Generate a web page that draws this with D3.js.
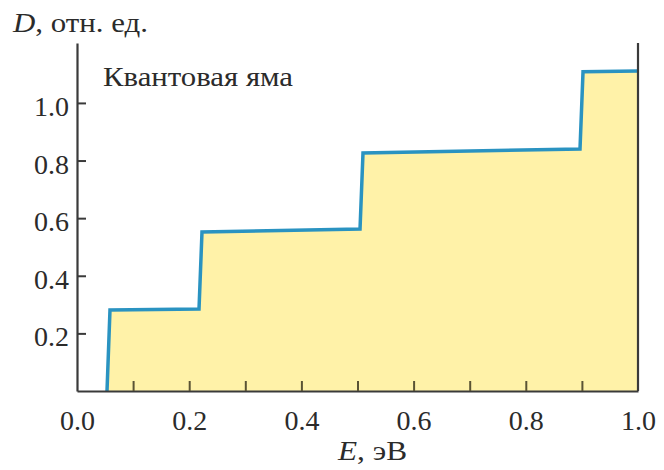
<!DOCTYPE html>
<html>
<head>
<meta charset="utf-8">
<script src="https://cdn.jsdelivr.net/npm/d3@7"></script>
</head>
<body style="margin:0">
<script>
// vertices of the step curve (energy, density of states)
const energy  = [0.0535, 0.0588, 0.2175, 0.2228, 0.5045, 0.5098, 0.8966, 0.902, 1.0];
const density = [0.0,    0.281,  0.285,  0.552,  0.5625, 0.826,  0.840,  1.108, 1.111];
const xLabelTicks = [0.0, 0.2, 0.4, 0.6, 0.8, 1.0];
const xMinorTicks = [0.1, 0.2, 0.3, 0.4, 0.5, 0.6, 0.7, 0.8, 0.9];
const yTicks = [0.2, 0.4, 0.6, 0.8, 1.0];

const width = 664, height = 470;
const margin = { top: 43, right: 26, bottom: 79, left: 77 };

const svg = d3.select('body').append('svg')
  .attr('width', width)
  .attr('height', height);

const x = d3.scaleLinear().domain([0, 1]).range([margin.left, width - margin.right]);
const y = d3.scaleLinear().domain([0, 1.208]).range([height - margin.bottom, margin.top]);

const points = energy.map((e, i) => ({ e: e, d: density[i] }));

// filled area under the curve
const area = d3.area()
  .x(d => x(d.e))
  .y0(y(0))
  .y1(d => y(d.d));

svg.append('path')
  .datum(points)
  .attr('d', area)
  .attr('fill', '#fff2a8');

// step curve
const line = d3.line()
  .x(d => x(d.e))
  .y(d => y(d.d));

svg.append('path')
  .datum(points)
  .attr('d', line)
  .attr('fill', 'none')
  .attr('stroke', '#2a93c1')
  .attr('stroke-width', 3.5);

// x axis: labels
const xAxis = svg.append('g')
  .attr('transform', `translate(0, ${y(0)})`)
  .call(d3.axisBottom(x).tickValues(xLabelTicks).tickFormat(d3.format('.1f'))
    .tickSize(0).tickPadding(19));
xAxis.attr('font-family', null).attr('font-size', null);
xAxis.select('.domain').attr('stroke', '#3a3a3a').attr('stroke-width', 2.2);
xAxis.selectAll('text')
  .style('font-family', '"Liberation Serif"')
  .style('font-size', '28px')
  .attr('fill', '#2b2b2b');

// x axis: inward ticks
const xTickAxis = svg.append('g')
  .attr('transform', `translate(0, ${y(0)})`)
  .call(d3.axisBottom(x).tickValues(xMinorTicks).tickFormat('').tickSize(-10).tickSizeOuter(0));
xTickAxis.select('.domain').remove();
xTickAxis.selectAll('line').attr('stroke', '#5a5334').attr('stroke-width', 2);

// y axis
const yAxis = svg.append('g')
  .attr('transform', `translate(${x(0)}, 0)`)
  .call(d3.axisLeft(y).tickValues(yTicks).tickFormat(d3.format('.1f'))
    .tickSize(-9).tickSizeOuter(0).tickPadding(8));
yAxis.attr('font-family', null).attr('font-size', null);
yAxis.select('.domain').attr('stroke', '#3a3a3a').attr('stroke-width', 2.2);
yAxis.selectAll('line').attr('stroke', '#3a3a3a').attr('stroke-width', 2);
yAxis.selectAll('text')
  .style('font-family', '"Liberation Serif"')
  .style('font-size', '28px')
  .attr('dy', '0.45em')
  .attr('fill', '#2b2b2b');

// right border line
svg.append('line')
  .attr('x1', x(1)).attr('x2', x(1))
  .attr('y1', y(0)).attr('y2', margin.top)
  .attr('stroke', '#3a3a3a')
  .attr('stroke-width', 2.2);

// titles
const yTitle = svg.append('text')
  .attr('x', 13)
  .attr('y', 32)
  .attr('fill', '#2b2b2b')
  .style('font-family', '"Liberation Serif"')
  .style('font-size', '28px')
  .attr('textLength', 135)
  .attr('lengthAdjust', 'spacingAndGlyphs');
yTitle.append('tspan').style('font-style', 'italic').text('D');
yTitle.append('tspan').text(', отн. ед.');

const xTitle = svg.append('text')
  .attr('x', 338)
  .attr('y', 460)
  .attr('fill', '#2b2b2b')
  .style('font-family', '"Liberation Serif"')
  .style('font-size', '28px')
  .attr('textLength', 69)
  .attr('lengthAdjust', 'spacingAndGlyphs');
xTitle.append('tspan').style('font-style', 'italic').text('E');
xTitle.append('tspan').text(', эВ');

svg.append('text')
  .attr('x', 103)
  .attr('y', 86)
  .attr('fill', '#2b2b2b')
  .style('font-family', '"Liberation Serif"')
  .style('font-size', '28px')
  .attr('textLength', 190)
  .attr('lengthAdjust', 'spacingAndGlyphs')
  .text('Квантовая яма');
</script>
</body>
</html>
